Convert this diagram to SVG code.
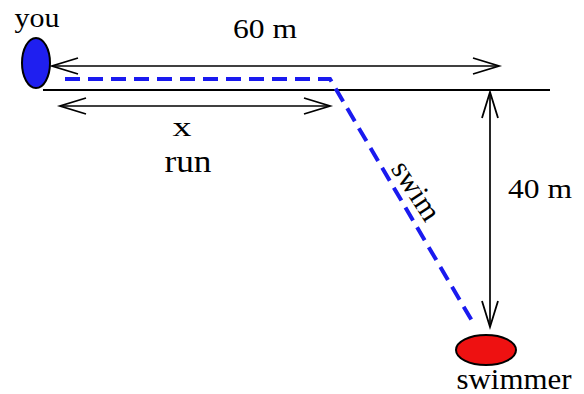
<svg xmlns="http://www.w3.org/2000/svg" width="584" height="394" viewBox="0 0 584 394">
<defs>
<marker id="ah" markerUnits="userSpaceOnUse" markerWidth="40" markerHeight="30" refX="0" refY="0" orient="auto-start-reverse" viewBox="-30 -15 40 30" overflow="visible">
<path d="M-26,-8 L0,0 L-26,8" fill="none" stroke="#000" stroke-width="1.8"/>
</marker>
</defs>
<style>
.t{font-family:"Liberation Serif","Times New Roman",Tinos,serif;fill:#000}
.dim{stroke:#000;stroke-width:1.7;fill:none;marker-start:url(#ah);marker-end:url(#ah)}
.path{stroke:#1a1aef;stroke-width:4;fill:none;stroke-dasharray:15 8}
</style>
<rect width="584" height="394" fill="#fff"/>
<g id="connectors">
<line class="dim" x1="52" y1="66" x2="499" y2="66"/>
<line x1="43" y1="90" x2="550" y2="90" stroke="#000" stroke-width="2"/>
<line class="dim" x1="60" y1="106" x2="330" y2="106"/>
<line class="dim" x1="490" y1="92" x2="490" y2="327"/>
<polyline class="path" points="65,79 330,79 475,326"/>
</g>
<g id="you">
<ellipse cx="36" cy="63" rx="14" ry="25" fill="#1f1ff0" stroke="#000" stroke-width="2"/>
<text class="t" x="37" y="27" font-size="28" text-anchor="middle" textLength="45" lengthAdjust="spacingAndGlyphs">you</text>
</g>
<g id="swimmer">
<ellipse cx="486" cy="350" rx="30" ry="15" fill="#ee1111" stroke="#000" stroke-width="2"/>
<text class="t" x="514" y="389" font-size="30" text-anchor="middle" textLength="115" lengthAdjust="spacingAndGlyphs">swimmer</text>
</g>
<g id="labels">
<text class="t" x="265" y="38" font-size="27" text-anchor="middle" textLength="64" lengthAdjust="spacingAndGlyphs">60 m</text>
<text class="t" x="540" y="198" font-size="27" text-anchor="middle" textLength="64" lengthAdjust="spacingAndGlyphs">40 m</text>
<text class="t" x="182" y="136" font-size="28" text-anchor="middle" textLength="19" lengthAdjust="spacingAndGlyphs">x</text>
<text class="t" x="188" y="172" font-size="32" text-anchor="middle" textLength="47" lengthAdjust="spacingAndGlyphs">run</text>
<text class="t" font-size="30" text-anchor="middle" transform="translate(408,196) rotate(57)">swim</text>
</g>
</svg>
